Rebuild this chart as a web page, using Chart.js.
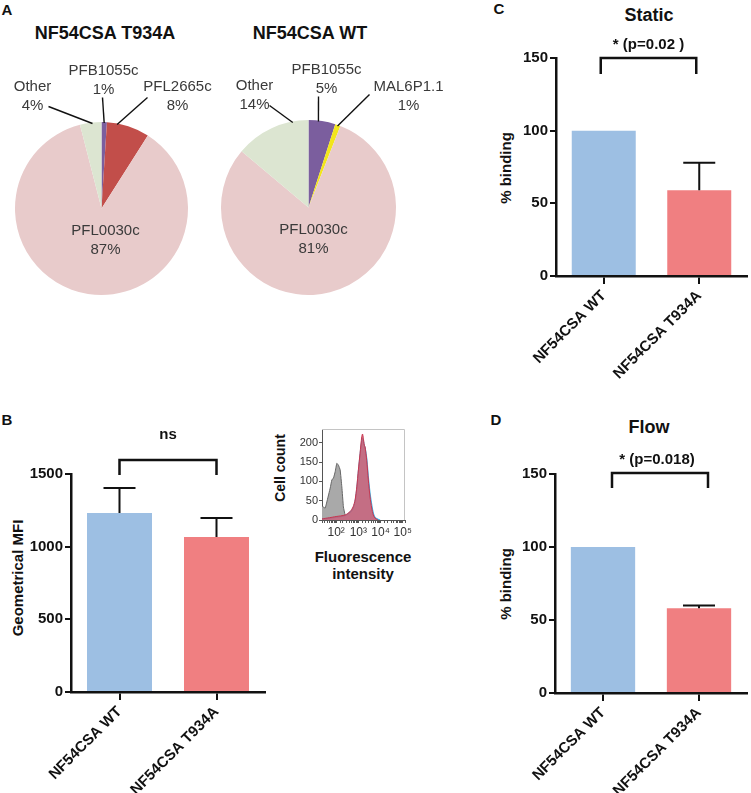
<!DOCTYPE html>
<html>
<head>
<meta charset="utf-8">
<script src="https://cdn.jsdelivr.net/npm/chart.js@4.4.1/dist/chart.umd.min.js"></script>
<style>
  body { margin: 0; background: #fff; font-family: "Liberation Sans", Arial, sans-serif; }
  #wrap { position: relative; width: 751px; height: 793px; overflow: hidden; }
  canvas { position: absolute; }
  .t { position: absolute; white-space: nowrap; color: #111; line-height: 1; transform: translate(-50%, -50%); font-weight: bold; }
  .letter { font-size: 15px; }
  .title { font-size: 18px; }
  .ylab { font-size: 15px; transform: translate(-50%, -50%) rotate(-90deg); }
</style>
</head>
<body>
<div id="wrap">
  <div class="t letter" style="left:7px;top:9px">A</div>
  <div class="t letter" style="left:7px;top:419px">B</div>
  <div class="t letter" style="left:499px;top:8px">C</div>
  <div class="t letter" style="left:496px;top:419px">D</div>

  <div class="t title" style="left:105px;top:33px">NF54CSA T934A</div>
  <div class="t title" style="left:310px;top:33px">NF54CSA WT</div>
  <div class="t title" style="left:649px;top:15px">Static</div>
  <div class="t title" style="left:649px;top:427px">Flow</div>

  <div class="t ylab" style="left:17px;top:578px">Geometrical MFI</div>
  <div class="t ylab" style="left:505px;top:168px">% binding</div>
  <div class="t ylab" style="left:505px;top:584px">% binding</div>
  <div class="t ylab" style="left:280px;top:468px;font-size:14px">Cell count</div>
  <div class="t" style="left:363px;top:556px;font-size:15px">Fluorescence</div>
  <div class="t" style="left:363px;top:573px;font-size:15px">intensity</div>

  <canvas id="pieT" width="225" height="300" style="left:0;top:0"></canvas>
  <canvas id="pieW" width="255" height="300" style="left:205px;top:0"></canvas>
  <canvas id="barB" width="270" height="373" style="left:0;top:420px"></canvas>
  <canvas id="hist" width="150" height="165" style="left:270px;top:420px"></canvas>
  <canvas id="barC" width="311" height="400" style="left:440px;top:0"></canvas>
  <canvas id="barD" width="311" height="373" style="left:440px;top:420px"></canvas>
</div>

<script>
// Pie data (A)
const pieLabelsT934A = ['PFB1055c', 'PFL2665c', 'PFL0030c', 'Other'];
const pieValuesT934A = [1, 8, 87, 4];
const pieColorsT934A = ['#7b5e9e', '#c24e4a', '#e8cbcb', '#dce5d1'];
const pieLabelsWT = ['PFB1055c', 'MAL6P1.1', 'PFL0030c', 'Other'];
const pieValuesWT = [5, 1, 81, 14];
const pieColorsWT = ['#7b5e9e', '#f2e51b', '#e8cbcb', '#dce5d1'];

// Bar data (B, C, D)
const strains = ['NF54CSA WT', 'NF54CSA T934A'];
const mfiValues = [1232, 1066];
const mfiErrors = [172, 131];
const staticValues = [100, 59];
const staticErrors = [0, 19];
const flowValues = [100, 58];
const flowErrors = [0, 2];

// Inset histogram (B): fluorescence intensity vs cell count
const grayX = [23, 32, 38, 54, 64, 76, 90, 107, 127, 151, 180, 212, 253, 302, 425, 575];
const grayY = [36, 31, 47, 83, 104, 109, 125, 147, 142, 130, 86, 34, 13, 8, 3, 0];
const redX = [23, 50, 100, 253, 425, 578, 711, 847, 1000, 1190, 1420, 1540, 1675, 1860, 2000, 2380, 2810, 3350, 3990, 4710, 5610, 7640];
const redY = [3, 6, 9, 13, 22, 34, 52, 86, 130, 173, 216, 223, 212, 194, 190, 155, 104, 60, 31, 13, 5, 0];
const blueX = [23, 100, 253, 425, 578, 711, 847, 1000, 1190, 1420, 1540, 1675, 1860, 2000, 2380, 2810, 3350, 3990, 4710, 5610, 7640, 9500];
const blueY = [2, 7, 11, 20, 30, 48, 80, 125, 168, 205, 212, 205, 192, 188, 160, 112, 70, 40, 18, 7, 2, 0];

const FONT = '"Liberation Sans", Arial, sans-serif';
const INK = '#111';

// Pie labels with leader lines
const callouts = {
  id: 'callouts',
  afterDatasetsDraw(chart, args, opts) {
    const arcs = chart.getDatasetMeta(0).data;
    const ctx = chart.ctx;
    ctx.save();
    ctx.font = '15px ' + FONT;
    ctx.textAlign = 'center';
    ctx.textBaseline = 'middle';
    opts.items.forEach((it, i) => {
      const arc = arcs[i];
      const cx = arc.x, cy = arc.y;
      ctx.fillStyle = '#3a3a3a';
      ctx.fillText(chart.data.labels[i], cx + it.tx, cy + it.ty);
      ctx.fillText(chart.data.datasets[0].data[i] + '%', cx + it.tx, cy + it.ty + 19);
      if (it.lx !== undefined) {
        const a = arc.startAngle + (arc.endAngle - arc.startAngle) * it.frac;
        const r = arc.outerRadius - 1;
        ctx.beginPath();
        ctx.moveTo(cx + it.lx, cy + it.ly);
        ctx.lineTo(cx + r * Math.cos(a), cy + r * Math.sin(a));
        ctx.strokeStyle = INK;
        ctx.lineWidth = 1.4;
        ctx.stroke();
      }
    });
    ctx.restore();
  }
};

function makePie(id, labels, values, colors, padding, items) {
  return new Chart(document.getElementById(id), {
    type: 'pie',
    data: { labels: labels, datasets: [{ data: values, backgroundColor: colors, borderWidth: 0 }] },
    options: {
      responsive: false,
      animation: false,
      layout: { padding: padding },
      plugins: { legend: { display: false }, tooltip: { enabled: false }, callouts: { items: items } }
    },
    plugins: [callouts]
  });
}

makePie('pieT', pieLabelsT934A, pieValuesT934A, pieColorsT934A,
  { left: 15, right: 37, top: 122, bottom: 5 },
  [
    { tx: 2, ty: -138, lx: 1, ly: -111, frac: 0.5 },
    { tx: 76, ty: -122, lx: 46, ly: -111, frac: 0.24 },
    { tx: 4, ty: 22 },
    { tx: -69, ty: -122, lx: -53, ly: -102, frac: 0.58 }
  ]);

makePie('pieW', pieLabelsWT, pieValuesWT, pieColorsWT,
  { left: 16, right: 64, top: 120, bottom: 5 },
  [
    { tx: 18, ty: -138, lx: 10, ly: -111, frac: 0.37 },
    { tx: 100, ty: -121, lx: 61, ly: -113, frac: 0.5 },
    { tx: 5, ty: 22 },
    { tx: -54, ty: -122, lx: -39, ly: -102, frac: 0.79 }
  ]);

// Error bars + significance bracket
const barExtras = {
  id: 'barExtras',
  afterDatasetsDraw(chart, args, opts) {
    const ctx = chart.ctx;
    const meta = chart.getDatasetMeta(0);
    const y = chart.scales.y;
    const vals = chart.data.datasets[0].data;
    ctx.save();
    ctx.strokeStyle = INK;
    ctx.lineWidth = 2;
    meta.data.forEach((bar, i) => {
      const err = opts.errors[i];
      if (!err) return;
      const y0 = y.getPixelForValue(vals[i]);
      const y1 = y.getPixelForValue(vals[i] + err);
      ctx.beginPath();
      ctx.moveTo(bar.x, y0);
      ctx.lineTo(bar.x, y1);
      ctx.moveTo(bar.x - 16, y1);
      ctx.lineTo(bar.x + 16, y1);
      ctx.stroke();
    });
    const b = opts.bracket;
    const xa = meta.data[0].x + (b.shift || 0);
    const xb = meta.data[1].x + (b.shift || 0);
    const yt = y.getPixelForValue(b.top);
    const yb = y.getPixelForValue(b.bottom);
    ctx.lineWidth = 2.5;
    ctx.beginPath();
    ctx.moveTo(xa, yb);
    ctx.lineTo(xa, yt);
    ctx.lineTo(xb, yt);
    ctx.lineTo(xb, yb);
    ctx.stroke();
    ctx.fillStyle = INK;
    ctx.font = 'bold 15px ' + FONT;
    ctx.textAlign = 'center';
    ctx.textBaseline = 'middle';
    ctx.fillText(b.text, (xa + xb) / 2 + (b.textShift || 0), yt - b.gap);
    ctx.restore();
  }
};

function makeBar(id, values, errors, yMax, step, yWidth, xHeight, padding, bracket) {
  return new Chart(document.getElementById(id), {
    type: 'bar',
    data: {
      labels: strains,
      datasets: [{
        data: values,
        backgroundColor: ['#9dbfe3', '#f07f81'],
        borderWidth: 0,
        categoryPercentage: 1,
        barPercentage: 0.67
      }]
    },
    options: {
      responsive: false,
      animation: false,
      layout: { padding: padding },
      plugins: {
        legend: { display: false },
        tooltip: { enabled: false },
        barExtras: { errors: errors, bracket: bracket }
      },
      scales: {
        x: {
          afterFit: s => { s.height = xHeight; },
          border: { color: INK, width: 2.5 },
          grid: { drawOnChartArea: false, offset: false, tickLength: 8, color: INK, lineWidth: 2 },
          ticks: { color: INK, font: { family: FONT, size: 15, weight: 'bold' }, minRotation: 45, maxRotation: 45, padding: 3, autoSkip: false }
        },
        y: {
          min: 0, max: yMax,
          afterFit: s => { s.width = yWidth; },
          border: { color: INK, width: 2.5 },
          grid: { drawOnChartArea: false, tickLength: 6, color: INK, lineWidth: 2 },
          ticks: { stepSize: step, color: INK, font: { family: FONT, size: 15, weight: 'bold' }, padding: 2, callback: v => String(v) }
        }
      }
    },
    plugins: [barExtras]
  });
}

makeBar('barB', mfiValues, mfiErrors, 1500, 500, 71, 101,
  { top: 54, right: 5, left: 0, bottom: 0 },
  { top: 1596, bottom: 1493, text: 'ns', gap: 25 });

makeBar('barC', staticValues, staticErrors, 150, 50, 116, 124,
  { top: 58, right: 4, left: 0, bottom: 0 },
  { top: 150, bottom: 139, text: '* (p=0.02 )', gap: 13, shift: -3 });

makeBar('barD', flowValues, flowErrors, 150, 50, 115, 100,
  { top: 54, right: 4, left: 0, bottom: 0 },
  { top: 150.7, bottom: 140.4, text: '* (p=0.018)', gap: 13, shift: 9, textShift: -3 });

// Inset histogram
const frame = {
  id: 'frame',
  afterDraw(chart) {
    const a = chart.chartArea, ctx = chart.ctx;
    ctx.save();
    ctx.strokeStyle = '#c4c4c4';
    ctx.lineWidth = 1;
    ctx.beginPath();
    ctx.moveTo(a.left, a.top + 0.5);
    ctx.lineTo(a.right - 0.5, a.top + 0.5);
    ctx.lineTo(a.right - 0.5, a.bottom);
    ctx.stroke();
    ctx.restore();
  }
};

const sup = { 2: '²', 3: '³', 4: '⁴', 5: '⁵' };
const pts = (xs, ys) => xs.map((x, i) => ({ x: x, y: ys[i] }));

new Chart(document.getElementById('hist'), {
  type: 'line',
  data: {
    datasets: [
      { data: pts(redX, redY), order: 0, borderColor: '#c8364f', backgroundColor: 'rgba(204,88,108,0.82)', fill: 'origin', borderWidth: 1, pointRadius: 0, tension: 0.25 },
      { data: pts(blueX, blueY), order: 1, borderColor: '#3db4e6', backgroundColor: '#9fd4ee', fill: 'origin', borderWidth: 1.2, pointRadius: 0, tension: 0.25 },
      { data: pts(grayX, grayY), order: 2, borderColor: '#666', backgroundColor: '#a9a9a9', fill: 'origin', borderWidth: 1, pointRadius: 0, tension: 0.1 }
    ]
  },
  options: {
    responsive: false,
    animation: false,
    layout: { padding: { top: 9, right: 15, left: 0, bottom: 0 } },
    plugins: { legend: { display: false }, tooltip: { enabled: false } },
    scales: {
      x: {
        type: 'logarithmic',
        min: 23, max: 126000,
        afterFit: s => { s.height = 65; },
        border: { color: '#555', width: 1 },
        grid: { drawOnChartArea: false, tickLength: 3, color: '#555', lineWidth: 1 },
        ticks: {
          color: '#333', font: { family: FONT, size: 12 }, padding: 2, autoSkip: false, maxRotation: 0,
          callback: v => {
            const l = Math.log10(v);
            const r = Math.round(l);
            return (Math.abs(l - r) < 1e-9 && sup[r]) ? '10' + sup[r] : '';
          }
        }
      },
      y: {
        min: 0, max: 236,
        afterFit: s => { s.width = 52; },
        border: { color: '#555', width: 1 },
        grid: { drawOnChartArea: false, tickLength: 3, color: '#555', lineWidth: 1 },
        ticks: { stepSize: 50, includeBounds: false, color: '#333', font: { family: FONT, size: 11 }, padding: 1 }
      }
    }
  },
  plugins: [frame]
});
</script>
</body>
</html>
